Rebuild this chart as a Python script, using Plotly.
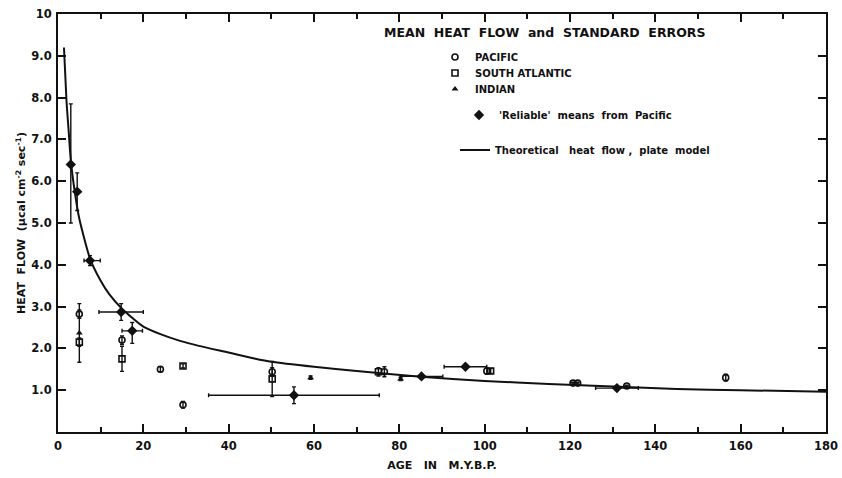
import plotly.graph_objects as go

# ---- data ----
pac_age = [5, 15, 24, 29.3, 50.2, 76.5, 100.5, 120.7, 121.8, 133.3, 156.5]
pac_hf = [2.82, 2.2, 1.5, 0.65, 1.44, 1.44, 1.46, 1.17, 1.17, 1.1, 1.3]
pac_err = [0.1, 0.1, 0.06, 0.08, 0.1, 0.12, 0.08, 0.02, 0.02, 0.02, 0.08]

sa_age = [5, 15, 29.3, 50.2, 75.1, 101.4]
sa_hf = [2.15, 1.75, 1.58, 1.27, 1.44, 1.46]
sa_err = [0.1, 0.3, 0.05, 0.42, 0.1, 0.06]

ind_age = [5, 59.2, 80.3]
ind_hf = [2.37, 1.3, 1.27]
ind_err = [0.7, 0.04, 0.04]

rel_age = [3, 4.5, 7.5, 14.8, 17.4, 55.3, 85.2, 95.5, 131]
rel_hf = [6.4, 5.75, 4.1, 2.87, 2.42, 0.88, 1.33, 1.56, 1.05]
rel_xerr_minus = [0, 0, 1.4, 5.2, 2.4, 20, 5, 5, 5]
rel_xerr_plus = [0, 0, 2.4, 5.2, 2.4, 20, 5, 5, 5]
rel_yerr_plus = [1.45, 0.45, 0.12, 0.2, 0.2, 0.2, 0.04, 0.04, 0.04]
rel_yerr_minus = [1.4, 0.45, 0.12, 0.2, 0.3, 0.2, 0.04, 0.04, 0.04]

curve_age = [1.4, 2, 2.5, 3, 4, 5, 7.5, 10, 12, 15, 20, 24, 28.6, 33, 40, 46, 50,
             60, 70, 85, 100, 115, 130, 145, 160, 180]
curve_hf = [9.2, 7.9, 7.2, 6.5, 5.7, 5.1, 4.15, 3.62, 3.3, 2.95, 2.52, 2.34, 2.18,
            2.06, 1.9, 1.76, 1.68, 1.56, 1.46, 1.32, 1.22, 1.15, 1.09, 1.03, 1.0, 0.96]

x_tickvals = [0, 20, 40, 60, 80, 100, 120, 140, 160, 180]
y_tickvals = [1, 2, 3, 4, 5, 6, 7, 8, 9, 10]
y_ticktext = ["1.0", "2.0", "3.0", "4.0", "5.0", "6.0", "7.0", "8.0", "9.0", "10"]

FONT = "DejaVu Sans"
INK = "#111111"

# plot area in pixels (for placing legend boxes)
L, R, T, B = 58, 16, 14, 46
PW, PH = 842 - L - R, 478 - T - B


def px(xp):
    return (xp - L) / PW


def py(yp):
    return (478 - B - yp) / PH


fig = go.Figure()

fig.add_trace(go.Scatter(
    x=pac_age, y=pac_hf, mode="markers", name="PACIFIC", legend="legend",
    showlegend=True,
    marker=dict(symbol="circle-open", size=6, color=INK, line=dict(width=1.6)),
    error_y=dict(type="data", array=pac_err, color=INK, thickness=1.4, width=2),
))
fig.add_trace(go.Scatter(
    x=sa_age, y=sa_hf, mode="markers", name="SOUTH ATLANTIC", legend="legend2",
    showlegend=True,
    marker=dict(symbol="square-open", size=6, color=INK, line=dict(width=1.6)),
    error_y=dict(type="data", array=sa_err, color=INK, thickness=1.4, width=2),
))
fig.add_trace(go.Scatter(
    x=ind_age, y=ind_hf, mode="markers", name="INDIAN", legend="legend3",
    showlegend=True,
    marker=dict(symbol="triangle-up", size=6, color=INK),
    error_y=dict(type="data", array=ind_err, color=INK, thickness=1.4, width=2),
))
fig.add_trace(go.Scatter(
    x=rel_age, y=rel_hf, mode="markers", name="'Reliable'  means  from  Pacific",
    legend="legend4", showlegend=True,
    marker=dict(symbol="diamond", size=8, color=INK),
    error_x=dict(type="data", symmetric=False, array=rel_xerr_plus,
                 arrayminus=rel_xerr_minus, color=INK, thickness=1.4, width=2),
    error_y=dict(type="data", symmetric=False, array=rel_yerr_plus,
                 arrayminus=rel_yerr_minus, color=INK, thickness=1.4, width=2),
))
fig.add_trace(go.Scatter(
    x=curve_age, y=curve_hf, mode="lines",
    name="Theoretical   heat  flow ,  plate  model", legend="legend5", showlegend=True,
    line=dict(color=INK, width=2, shape="spline", smoothing=0.6),
))

fig.add_annotation(
    xref="paper", yref="paper", x=px(544), y=py(33), xanchor="center", yanchor="middle",
    text="MEAN  HEAT  FLOW  and  STANDARD  ERRORS", showarrow=False,
    font=dict(family=FONT, size=12.5, color=INK, weight="bold"),
)

axis_common = dict(
    showline=True, linecolor=INK, linewidth=2, mirror="ticks",
    ticks="inside", tickcolor=INK, tickwidth=1.5, ticklen=8,
    showgrid=False, zeroline=False, automargin=False,
    tickfont=dict(family=FONT, size=11.5, color=INK, weight="bold"),
)

fig.update_xaxes(
    range=[0, 180], tickvals=x_tickvals, ticklabelstandoff=2,
    minor=dict(dtick=10, ticks="inside", ticklen=5, tickcolor=INK, tickwidth=1.5),
    title=dict(text="AGE   IN   M.Y.B.P.", standoff=10,
               font=dict(family=FONT, size=11, color=INK, weight="bold")),
    **axis_common,
)
fig.update_yaxes(
    range=[0, 10], tickvals=y_tickvals, ticktext=y_ticktext, ticklabelstandoff=2,
    title=dict(text="HEAT  FLOW  (μcal cm<sup>-2</sup> sec<sup>-1</sup>)", standoff=3,
               font=dict(family=FONT, size=11, color=INK, weight="bold")),
    **axis_common,
)


def leg(text_x, text_y):
    # text starts ~41 px right of the legend box's left edge
    return dict(
        x=px(text_x - 41), y=py(text_y), xanchor="left", yanchor="middle",
        bgcolor="rgba(0,0,0,0)", borderwidth=0, itemwidth=30,
        font=dict(family=FONT, size=10, color=INK, weight="bold"),
    )


fig.update_layout(
    width=842, height=478,
    margin=dict(l=L, r=R, t=T, b=B),
    paper_bgcolor="white", plot_bgcolor="white",
    font=dict(family=FONT, color=INK),
    showlegend=True,
    legend=leg(476, 57),
    legend2=leg(476, 73),
    legend3=leg(476, 89),
    legend4=leg(500, 115),
    legend5=leg(496, 150),
)

fig.write_html("out.html")
